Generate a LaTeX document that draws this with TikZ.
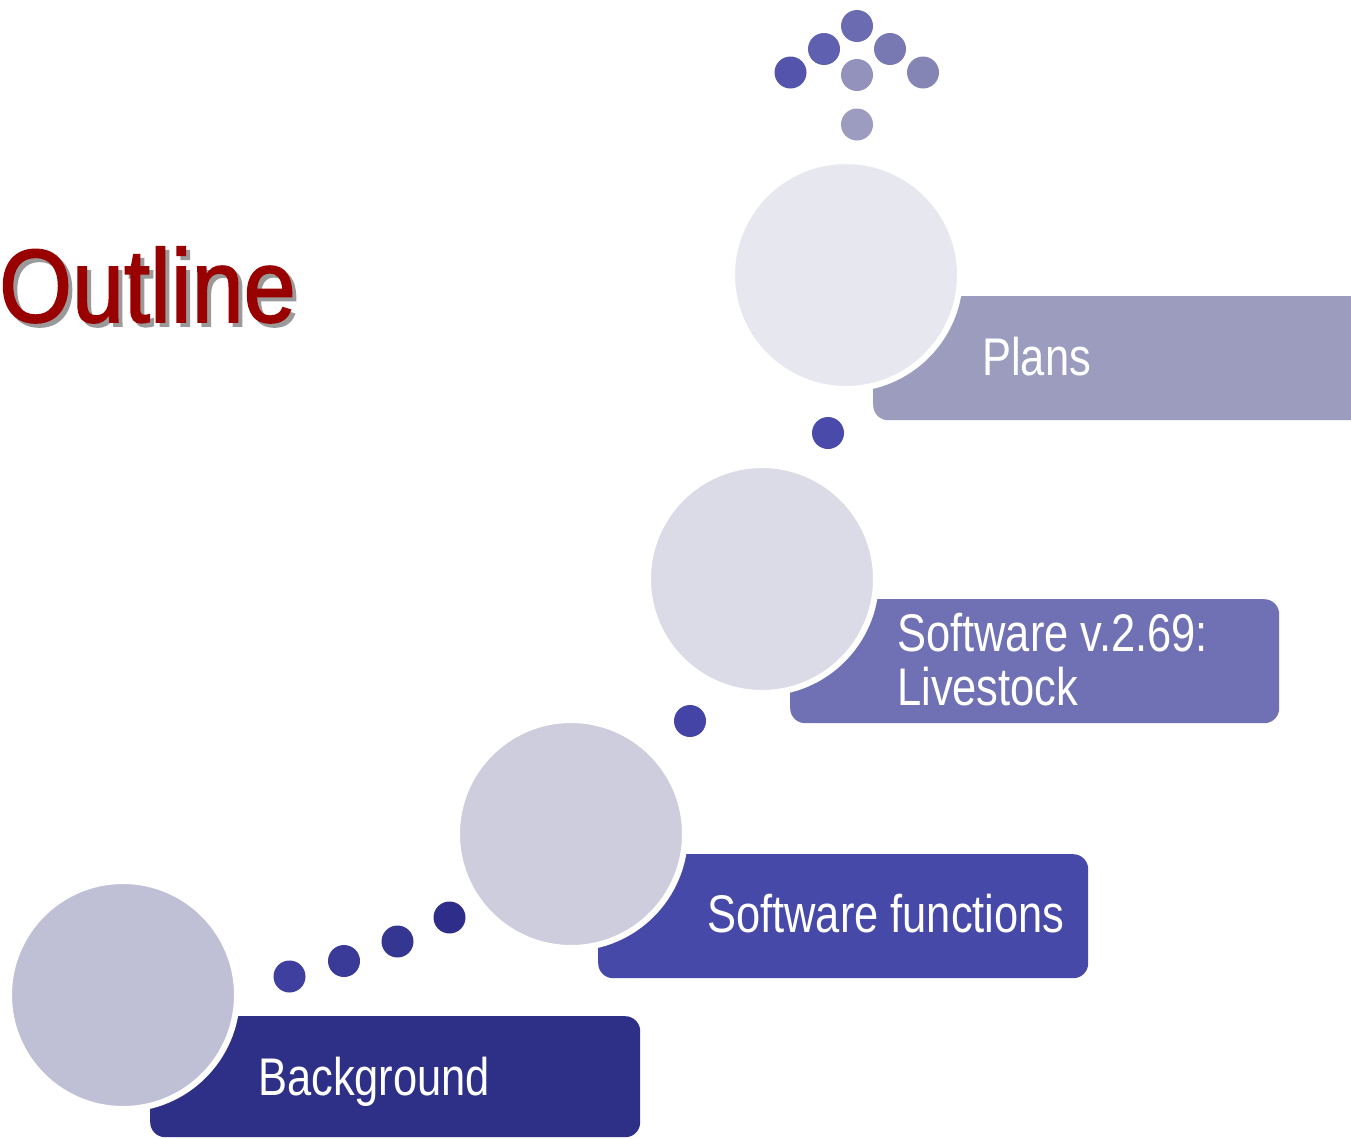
\documentclass[tikz,border=0pt]{standalone}
\usepackage{fontspec}
\setmainfont{Liberation Sans}
\newfontfamily\boxfont[FakeStretch=0.82]{Liberation Sans}
\newfontfamily\titlefont[FakeStretch=0.9,FakeBold=1.6]{Liberation Sans}
\definecolor{cA}{HTML}{BFC0D6}
\definecolor{cB}{HTML}{CDCDDE}
\definecolor{cC}{HTML}{DBDBE7}
\definecolor{cD}{HTML}{E7E8EF}
\definecolor{bA}{HTML}{2E3088}
\definecolor{bB}{HTML}{4749A8}
\definecolor{bC}{HTML}{7070B4}
\definecolor{bD}{HTML}{9C9CBF}
\definecolor{titlered}{HTML}{990000}
\definecolor{shadowgray}{HTML}{9A9A9A}
\tikzset{
  bigcirc/.style={circle, draw=white, line width=6pt, minimum size=228pt, inner sep=0pt},
  stepbox/.style={rectangle, rounded corners=15pt, inner sep=0pt, anchor=north west},
  dotc/.style={circle, minimum size=32pt, inner sep=0pt},
  lbl/.style={text=white, anchor=base west, inner sep=0pt, font=\boxfont\fontsize{53}{54}\selectfont, align=left},
}
\begin{document}
\begin{tikzpicture}[x=1pt,y=-1pt]
\useasboundingbox (0,0) rectangle (1351,1138);
\clip (0,0) rectangle (1351,1138);
% title with shadow
\node[anchor=base west, inner sep=0pt, font=\titlefont\fontsize{104}{104}\selectfont] (title) at (-1,322)
  {\rlap{\hspace{4pt}\raisebox{-4pt}{\color{shadowgray}Outline}}\color{titlered}Outline};
% boxes
\node[stepbox, fill=bA, minimum width=490pt, minimum height=121pt] (boxA) at (150,1016) {};
\node[stepbox, fill=bB, minimum width=490pt, minimum height=124pt] (boxB) at (598,854) {};
\node[stepbox, fill=bC, minimum width=489pt, minimum height=124pt] (boxC) at (790,599) {};
\node[stepbox, fill=bD, minimum width=520pt, minimum height=124pt] (boxD) at (873,296) {};
% circles
\node[bigcirc, fill=cA] (circA) at (123,995) {};
\node[bigcirc, fill=cB] (circB) at (571,834) {};
\node[bigcirc, fill=cC] (circC) at (762,579) {};
\node[bigcirc, fill=cD] (circD) at (846,275) {};
% labels
\node[lbl] (tA) at (258,1095) {Background};
\node[lbl] (tB) at (707,932) {Software functions};
\node[lbl] (tC) at (897,651) {Software v.2.69:};
\node[lbl] (tC2) at (897,705) {Livestock};
\node[lbl] (tD) at (982,375) {Plans};
% dots between steps
\node[dotc, fill={rgb,255:red,63;green,63;blue,160}] (dA1) at (289.5,976.5) {};
\node[dotc, fill={rgb,255:red,58;green,58;blue,152}] (dA2) at (344,961) {};
\node[dotc, fill={rgb,255:red,53;green,53;blue,146}] (dA3) at (397.5,941.5) {};
\node[dotc, fill={rgb,255:red,46;green,46;blue,138}] (dA4) at (449.5,917.5) {};
\node[dotc, fill={rgb,255:red,68;green,68;blue,166}] (dB1) at (690,721) {};
\node[dotc, fill={rgb,255:red,74;green,74;blue,170}] (dC1) at (828,433) {};
% top arrow dots
\node[dotc, fill={rgb,255:red,84;green,84;blue,172}] (u1) at (790.5,72.5) {};
\node[dotc, fill={rgb,255:red,96;green,96;blue,176}] (u2) at (824,49) {};
\node[dotc, fill={rgb,255:red,107;green,107;blue,178}] (u3) at (857,26) {};
\node[dotc, fill={rgb,255:red,120;green,120;blue,178}] (u4) at (890,49) {};
\node[dotc, fill={rgb,255:red,133;green,133;blue,181}] (u5) at (923,72.5) {};
\node[dotc, fill={rgb,255:red,146;green,146;blue,188}] (u6) at (857,75) {};
\node[dotc, fill={rgb,255:red,156;green,156;blue,192}] (u7) at (857,124.5) {};
\end{tikzpicture}
\end{document}
